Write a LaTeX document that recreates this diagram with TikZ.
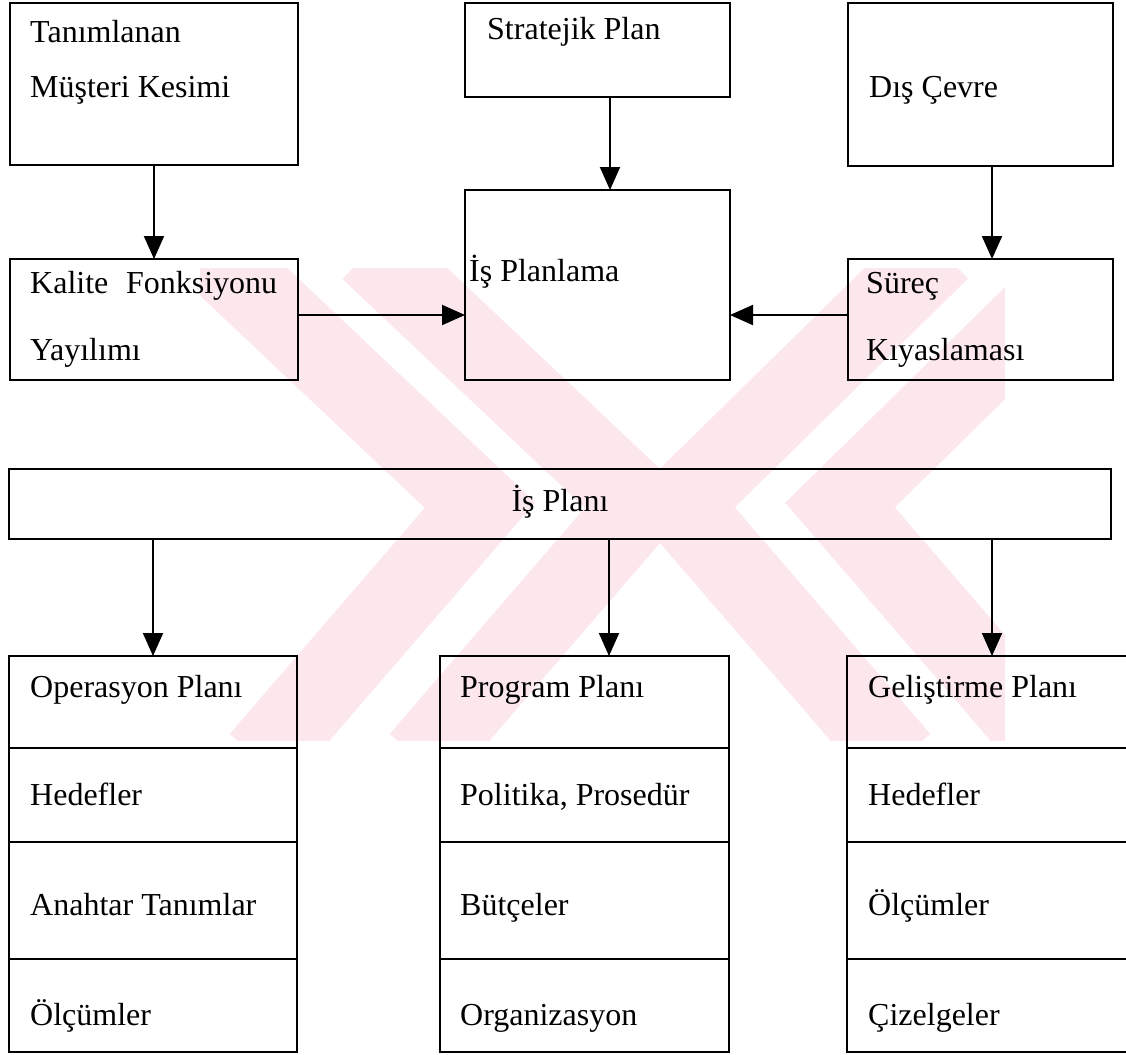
\documentclass[tikz,border=0pt]{standalone}
\usepackage{fontspec}
\setmainfont{Liberation Serif}
\usetikzlibrary{arrows.meta,calc}
\definecolor{wm}{RGB}{252,231,236}
\begin{document}
\begin{tikzpicture}[x=1pt,y=-1pt,
  box/.style={draw, line width=2.8pt, anchor=north west, inner sep=0pt, outer sep=0pt},
  txt/.style={anchor=base west, inner sep=0pt, font=\fontsize{32}{36}\selectfont},
  ctxt/.style={anchor=base, inner sep=0pt, font=\fontsize{32}{36}\selectfont},
  arr/.style={line width=2pt, -{Triangle[width=20pt,length=23pt]}},
  band/.style={wm, line width=80pt, line join=miter}
]
\useasboundingbox (0,0) rectangle (1126,1054);
% watermark
\begin{scope}
  \clip (200,268) rectangle (1005,740);
  \draw[band] (210,250) -- (480,505) -- (260,760);
  \draw[band] (370,250) -- (640,505) -- (420,760);
  \draw[band] (940,250) -- (680,505) -- (900,760);
  \draw[band] (1100,250) -- (840,505) -- (1060,760);
\end{scope}
% top row
\node[box, minimum width=288pt, minimum height=162pt] (A) at (10,3) {};
\node[box, minimum width=265pt, minimum height=94pt] (S) at (465,3) {};
\node[box, minimum width=265pt, minimum height=163pt] (D) at (848,3) {};
% middle row
\node[box, minimum width=288pt, minimum height=121pt] (K) at (10,259) {};
\node[box, minimum width=265pt, minimum height=190pt] (P) at (465,190) {};
\node[box, minimum width=265pt, minimum height=121pt] (R) at (848,259) {};
% business plan
\node[box, minimum width=1102pt, minimum height=70pt] (I) at (9,469) {};
% bottom columns
\node[box, minimum width=288pt, minimum height=92pt] (oA) at (9,656) {};
\node[box, minimum width=288pt, minimum height=94pt] (oB) at (9,748) {};
\node[box, minimum width=288pt, minimum height=117pt] (oC) at (9,842) {};
\node[box, minimum width=288pt, minimum height=93pt] (oD) at (9,959) {};
\node[box, minimum width=289pt, minimum height=92pt] (pA) at (440,656) {};
\node[box, minimum width=289pt, minimum height=94pt] (pB) at (440,748) {};
\node[box, minimum width=289pt, minimum height=117pt] (pC) at (440,842) {};
\node[box, minimum width=289pt, minimum height=93pt] (pD) at (440,959) {};
\node[box, minimum width=284pt, minimum height=92pt] (gA) at (847,656) {};
\node[box, minimum width=284pt, minimum height=94pt] (gB) at (847,748) {};
\node[box, minimum width=284pt, minimum height=117pt] (gC) at (847,842) {};
\node[box, minimum width=284pt, minimum height=93pt] (gD) at (847,959) {};
% texts
\node[txt] (tA1) at (30,43) {Tanımlanan};
\node[txt] (tA2) at (30,98) {Müşteri Kesimi};
\node[txt] (tS) at (487,40) {Stratejik Plan};
\node[txt] (tD) at (869,98) {Dış Çevre};
\node[txt] (tK1) at (30,293) {\makebox[247pt][s]{Kalite Fonksiyonu}};
\node[txt] (tK2) at (30,360) {Yayılımı};
\node[txt] (tP) at (469,281) {İş Planlama};
\node[txt] (tR1) at (866,293) {Süreç};
\node[txt] (tR2) at (866,360) {Kıyaslaması};
\node[ctxt] (tI) at (560,511) {İş Planı};
\node[txt] (toA) at (30,697) {Operasyon Planı};
\node[txt] (toB) at (30,805) {Hedefler};
\node[txt] (toC) at (30,915) {Anahtar Tanımlar};
\node[txt] (toD) at (30,1025) {Ölçümler};
\node[txt] (tpA) at (460,697) {Program Planı};
\node[txt] (tpB) at (460,805) {Politika, Prosedür};
\node[txt] (tpC) at (460,915) {Bütçeler};
\node[txt] (tpD) at (460,1025) {Organizasyon};
\node[txt] (tgA) at (868,697) {Geliştirme Planı};
\node[txt] (tgB) at (868,805) {Hedefler};
\node[txt] (tgC) at (868,915) {Ölçümler};
\node[txt] (tgD) at (868,1025) {Çizelgeler};
% guide coordinates
\coordinate (cx1) at (610,0);
\coordinate (cx2) at (992,0);
\coordinate (cx3) at (609,0);
\coordinate (cy1) at (0,315);
% arrows
\draw[arr] (A) -- (K);
\draw[arr] (S.south -| cx1) -- (P.north -| cx1);
\draw[arr] (D.south -| cx2) -- (R.north -| cx2);
\draw[arr] (K.east |- cy1) -- (P.west |- cy1);
\draw[arr] (R.west |- cy1) -- (P.east |- cy1);
\draw[arr] (I.south -| oA.north) -- (oA.north);
\draw[arr] (I.south -| cx3) -- (pA.north -| cx3);
\draw[arr] (I.south -| cx2) -- (gA.north -| cx2);
\end{tikzpicture}
\end{document}
